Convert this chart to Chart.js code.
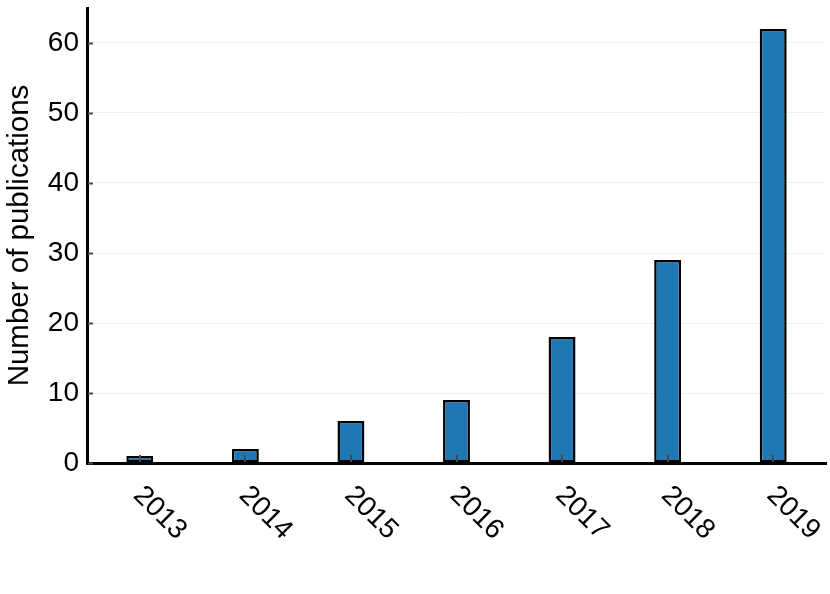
<!DOCTYPE html>
<html>
<head>
<meta charset="utf-8">
<style>
  html, body { margin: 0; padding: 0; background: #fff; }
  #wrap { width: 830px; height: 594px; }
</style>
<script src="https://cdn.jsdelivr.net/npm/chart.js@4/dist/chart.umd.min.js"></script>
</head>
<body>
<div id="wrap"><canvas id="c" width="830" height="594"></canvas></div>
<script>
const categories = ['2013', '2014', '2015', '2016', '2017', '2018', '2019'];
const publications = [1, 2, 6, 9, 18, 29, 62];
const yTickValues = [0, 10, 20, 30, 40, 50, 60];
const yTitle = 'Number of publications';

const FONT = '"Liberation Sans", Arial, sans-serif';

const customAxes = {
  id: 'customAxes',
  afterDatasetsDraw(chart) {
    const ctx = chart.ctx;
    const xs = chart.scales.x, ys = chart.scales.y;
    const ax = chart.chartArea.left, ay = chart.chartArea.bottom;
    ctx.save();
    ctx.strokeStyle = '#4a4a4a';
    ctx.lineWidth = 2;
    yTickValues.forEach(v => {
      const py = Math.round(ys.getPixelForValue(v)) + 0.5;
      ctx.beginPath();
      ctx.moveTo(ax + 1, py);
      ctx.lineTo(ax + 6, py);
      ctx.stroke();
    });
    categories.forEach((c, i) => {
      const px = Math.round(xs.getPixelForValue(i));
      ctx.beginPath();
      ctx.moveTo(px, ay - 1);
      ctx.lineTo(px, ay - 8);
      ctx.stroke();
    });
    ctx.fillStyle = '#000';
    ctx.font = '28px ' + FONT;
    ctx.textAlign = 'center';
    ctx.textBaseline = 'middle';
    categories.forEach((c, i) => {
      const px = xs.getPixelForValue(i);
      ctx.save();
      ctx.translate(px + 20, ay + 50);
      ctx.rotate(Math.PI / 4);
      ctx.fillText(c, 0, 0);
      ctx.restore();
    });
    ctx.restore();
  }
};

new Chart(document.getElementById('c'), {
  type: 'bar',
  data: {
    labels: categories,
    datasets: [{
      data: publications,
      backgroundColor: '#1f77b4',
      borderColor: '#000',
      borderWidth: 2.5,
      borderSkipped: false,
      categoryPercentage: 1,
      barPercentage: 0.255
    }]
  },
  options: {
    responsive: false,
    animation: false,
    devicePixelRatio: 1,
    layout: { padding: { left: 2, top: 8, right: 4, bottom: 0 } },
    plugins: { legend: { display: false }, tooltip: { enabled: false } },
    scales: {
      x: {
        grid: { display: false, drawTicks: false },
        border: { color: '#000', width: 3 },
        ticks: { display: false },
        afterFit(scale) { scale.height = 131; scale.paddingLeft = 0; scale.paddingRight = 0; }
      },
      y: {
        min: 0,
        max: 65,
        ticks: {
          stepSize: 10,
          color: '#000',
          padding: 8,
          font: { family: FONT, size: 28 }
        },
        afterBuildTicks(scale) {
          scale.ticks = yTickValues.map(v => ({ value: v }));
        },
        grid: { color: '#eceffa', lineWidth: 1, drawTicks: false },
        border: { color: '#000', width: 3 },
        title: {
          display: true,
          text: yTitle,
          color: '#000',
          padding: 0,
          font: { family: FONT, size: 29.5 }
        },
        afterFit(scale) { scale.width = 85; scale.paddingTop = 0; scale.paddingBottom = 0; }
      }
    }
  },
  plugins: [customAxes]
});
</script>
</body>
</html>
